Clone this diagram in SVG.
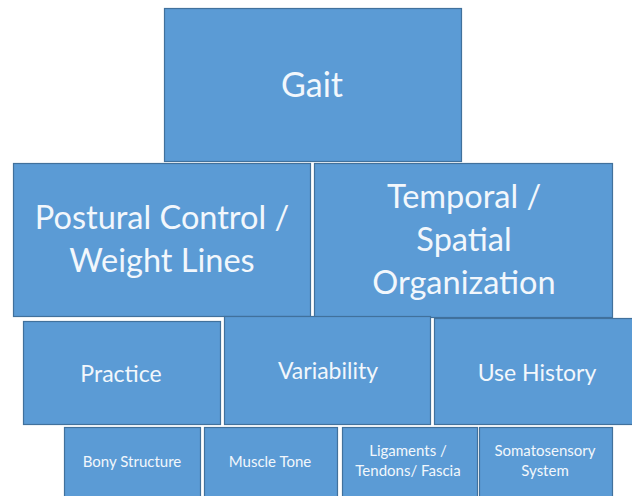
<svg xmlns="http://www.w3.org/2000/svg" width="632" height="496" viewBox="0 0 632 496">
  <style>
    .box { fill: #5b9bd5; stroke: #41719c; stroke-width: 1.2; }
    .lbl { fill: #f2f7fc; font-family: Lato, "Open Sans", "Liberation Sans", sans-serif; text-anchor: middle; }
    .xl { font-size: 34px; }
    .lg { font-size: 32.5px; }
    .md { font-size: 23px; }
    .sm { font-size: 15px; }
  </style>
  <rect width="632" height="496" fill="#ffffff"/>

  <!-- top level -->
  <g id="gait">
    <rect class="box" x="164.5" y="8.5" width="297" height="153"/>
    <text class="lbl xl" x="312" y="97">Gait</text>
  </g>

  <!-- second row -->
  <g id="postural-control">
    <rect class="box" x="13.5" y="163.5" width="297" height="153"/>
    <text class="lbl lg" x="162" y="229">Postural Control /</text>
    <text class="lbl lg" x="162" y="272">Weight Lines</text>
  </g>
  <g id="temporal-spatial">
    <rect class="box" x="314.5" y="163.5" width="298" height="154"/>
    <text class="lbl lg" x="464" y="208">Temporal /</text>
    <text class="lbl lg" x="464" y="251">Spatial</text>
    <text class="lbl lg" x="464" y="294">Organization</text>
  </g>

  <!-- third row -->
  <g id="practice">
    <rect class="box" x="23.5" y="321.5" width="197" height="103"/>
    <text class="lbl md" x="121" y="382">Practice</text>
  </g>
  <g id="variability">
    <rect class="box" x="224.5" y="316.5" width="206" height="108"/>
    <text class="lbl md" x="328" y="379">Variability</text>
  </g>
  <g id="use-history">
    <rect class="box" x="434.5" y="318.5" width="199" height="106"/>
    <text class="lbl md" x="537" y="381">Use History</text>
  </g>

  <!-- bottom row -->
  <g id="bony-structure">
    <rect class="box" x="64.5" y="427.5" width="136" height="72"/>
    <text class="lbl sm" x="132" y="467">Bony Structure</text>
  </g>
  <g id="muscle-tone">
    <rect class="box" x="204.5" y="427.5" width="133" height="72"/>
    <text class="lbl sm" x="270" y="467">Muscle Tone</text>
  </g>
  <g id="ligaments">
    <rect class="box" x="342.5" y="427.5" width="135" height="72"/>
    <text class="lbl sm" x="408" y="456">Ligaments /</text>
    <text class="lbl sm" x="408" y="476">Tendons/ Fascia</text>
  </g>
  <g id="somatosensory">
    <rect class="box" x="479.5" y="427.5" width="133" height="72"/>
    <text class="lbl sm" x="545" y="456">Somatosensory</text>
    <text class="lbl sm" x="545" y="476">System</text>
  </g>
</svg>
